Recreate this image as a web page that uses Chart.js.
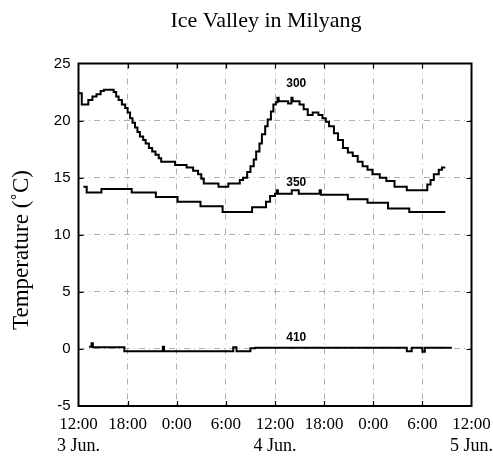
<!DOCTYPE html>
<html>
<head>
<meta charset="utf-8">
<title>Ice Valley in Milyang</title>
<script src="https://cdn.jsdelivr.net/npm/chart.js@4/dist/chart.umd.min.js"></script>
<style>
  html, body { margin: 0; padding: 0; background: #fff; }
  #wrap { width: 493px; height: 458px; }
</style>
</head>
<body>
<div id="wrap"><canvas id="c" width="493" height="458"></canvas></div>
<script>
// Hours elapsed since 12:00 on 3 June, and temperatures (°C) at three sensors
const hours300 = [0, 0.4, 1.2, 1.7, 2.2, 2.7, 3.1, 4.3, 4.6, 4.9, 5.3, 5.7, 6.0, 6.3, 6.6, 6.9, 7.2, 7.5, 7.9, 8.2, 8.6, 9.0, 9.4, 9.8, 10.1, 11.8, 13.2, 14.0, 14.6, 15.0, 15.3, 17.1, 18.3, 19.7, 20.1, 20.6, 21.0, 21.4, 21.7, 22.1, 22.4, 22.8, 23.1, 23.5, 23.8, 24.1, 24.3, 24.45, 25.6, 26.0, 26.15, 27.0, 27.5, 28.0, 28.6, 29.3, 29.8, 30.2, 30.6, 31.2, 31.7, 32.3, 32.9, 33.5, 34.1, 34.7, 35.3, 35.9, 36.8, 37.6, 38.6, 40.1, 42.6, 43.0, 43.4, 44.0, 44.4, 44.8];
const temp300  = [22.4, 21.4, 21.8, 22.1, 22.3, 22.6, 22.7, 22.5, 22.1, 21.8, 21.4, 21.1, 20.7, 20.2, 19.8, 19.4, 19.0, 18.6, 18.3, 18.0, 17.6, 17.3, 17.0, 16.7, 16.4, 16.1, 15.9, 15.6, 15.3, 14.9, 14.5, 14.2, 14.5, 14.8, 15.0, 15.5, 16.0, 16.6, 17.3, 18.0, 18.8, 19.5, 20.1, 20.8, 21.4, 21.6, 22.0, 21.7, 21.5, 22.0, 21.7, 21.4, 21.0, 20.5, 20.7, 20.5, 20.2, 19.9, 19.5, 18.9, 18.3, 17.6, 17.2, 16.9, 16.4, 16.0, 15.7, 15.3, 15.0, 14.7, 14.2, 13.9, 14.4, 14.8, 15.3, 15.7, 15.9, 15.9];

const hours350 = [0.6, 1.0, 2.8, 6.5, 9.45, 12.1, 14.9, 17.6, 21.2, 22.9, 23.4, 24.0, 24.2, 24.35, 26.05, 26.9, 29.45, 29.6, 32.9, 35.3, 37.8, 40.4, 44.8];
const temp350  = [14.2, 13.7, 14.0, 13.7, 13.3, 12.9, 12.5, 12.0, 12.4, 12.9, 13.4, 13.6, 13.9, 13.6, 13.9, 13.6, 13.9, 13.5, 13.1, 12.8, 12.3, 12.0, 12.0];

const hours410 = [1.3, 1.6, 1.75, 5.6, 10.3, 10.45, 18.9, 19.3, 21.0, 21.6, 40.1, 40.7, 42.0, 42.3, 45.6];
const temp410  = [0.2, 0.5, 0.15, -0.2, 0.2, -0.2, 0.15, -0.2, 0.05, 0.1, -0.2, 0.1, -0.25, 0.1, 0.1];

const seriesNames = ['300', '350', '410'];
const timeLabels = ['12:00', '18:00', '0:00', '6:00', '12:00', '18:00', '0:00', '6:00', '12:00'];
const dateLabels = ['3 Jun.', '4 Jun.', '5 Jun.'];
const yTicks = [-5, 0, 5, 10, 15, 20, 25];

const titleText = 'Ice Valley in Milyang';
const yTitleText = 'Temperature (\u02DAC)';

const SERIF = "'Liberation Serif', 'Times New Roman', serif";
const SANS = "'Liberation Sans', Arial, sans-serif";

function toPoints(hs, ts) {
  return hs.map((h, i) => ({ x: h, y: ts[i] }));
}

// each reading holds until the next one (horizontal first, then vertical)
function seriesDataset(hs, ts, name) {
  return {
    label: name,
    data: toPoints(hs, ts),
    stepped: 'before',
    borderColor: '#000',
    borderWidth: 2,
    pointRadius: 0,
    fill: false
  };
}

// Frame, inward tick marks, chart title, y-axis title and the sensor labels
const decorations = {
  id: 'decorations',
  afterDraw(chart) {
    const { ctx, chartArea: a, scales } = chart;
    const xs = scales.x, ys = scales.y;
    ctx.save();

    // inward tick marks on all four sides
    ctx.strokeStyle = '#000';
    ctx.lineWidth = 1.2;
    ctx.beginPath();
    yTicks.slice(1, -1).forEach(v => {
      const py = Math.round(ys.getPixelForValue(v)) + 0.5;
      ctx.moveTo(a.left, py); ctx.lineTo(a.left + 5, py);
      ctx.moveTo(a.right, py); ctx.lineTo(a.right - 5, py);
    });
    for (let h = 6; h < 48; h += 6) {
      const px = Math.round(xs.getPixelForValue(h)) + 0.5;
      ctx.moveTo(px, a.top); ctx.lineTo(px, a.top + 5);
      ctx.moveTo(px, a.bottom); ctx.lineTo(px, a.bottom - 5);
    }
    ctx.stroke();

    // frame
    ctx.lineWidth = 2;
    ctx.strokeRect(a.left, a.top, a.right - a.left, a.bottom - a.top);

    // sensor labels placed next to their curves
    ctx.fillStyle = '#000';
    ctx.font = 'bold 12px ' + SANS;
    ctx.textAlign = 'center';
    ctx.textBaseline = 'middle';
    const labelAt = [[26.6, 23.2], [26.6, 14.6], [26.6, 0.95]];
    seriesNames.forEach((n, i) => {
      ctx.fillText(n, xs.getPixelForValue(labelAt[i][0]), ys.getPixelForValue(labelAt[i][1]));
    });

    // chart title
    ctx.font = '22px ' + SERIF;
    ctx.fillText(titleText, 266, 21);

    // y-axis title
    ctx.translate(22, 250);
    ctx.rotate(-Math.PI / 2);
    ctx.font = '23px ' + SERIF;
    ctx.fillText(yTitleText, 0, 0);
    ctx.restore();
  }
};

const gridStyle = {
  color: '#9a9a9a',
  lineWidth: 0.8,
  drawTicks: false
};

new Chart(document.getElementById('c'), {
  type: 'line',
  data: {
    datasets: [
      seriesDataset(hours300, temp300, seriesNames[0]),
      seriesDataset(hours350, temp350, seriesNames[1]),
      seriesDataset(hours410, temp410, seriesNames[2])
    ]
  },
  options: {
    responsive: false,
    animation: false,
    devicePixelRatio: 1,
    layout: { padding: { top: 63.5, right: 21.5, left: 0, bottom: 0 } },
    plugins: {
      legend: { display: false },
      tooltip: { enabled: false },
      title: { display: false }
    },
    scales: {
      x: {
        type: 'linear',
        position: 'bottom',
        weight: 0,
        min: 0,
        max: 48,
        grid: gridStyle,
        border: { display: false, dash: [6, 4, 1, 4] },
        ticks: {
          stepSize: 6,
          autoSkip: false,
          maxRotation: 0,
          padding: 8,
          color: '#000',
          font: { family: SERIF, size: 17 },
          callback: (v, i) => timeLabels[i]
        },
        afterFit: s => { s.height = 28; s.paddingLeft = 0; s.paddingRight = 0; }
      },
      x2: {
        type: 'linear',
        position: 'bottom',
        weight: 1,
        min: 0,
        max: 48,
        grid: { display: false, drawTicks: false },
        border: { display: false },
        ticks: {
          stepSize: 24,
          autoSkip: false,
          maxRotation: 0,
          padding: 1,
          color: '#000',
          font: { family: SERIF, size: 18 },
          callback: (v, i) => dateLabels[i]
        },
        afterFit: s => { s.height = 24; s.paddingLeft = 0; s.paddingRight = 0; }
      },
      y: {
        type: 'linear',
        min: -5,
        max: 25,
        grid: gridStyle,
        border: { display: false, dash: [6, 4, 1, 4] },
        ticks: {
          stepSize: 5,
          padding: 8,
          color: '#000',
          font: { family: SANS, size: 15 }
        },
        afterFit: s => { s.width = 78.5; }
      }
    }
  },
  plugins: [decorations]
});
</script>
</body>
</html>
